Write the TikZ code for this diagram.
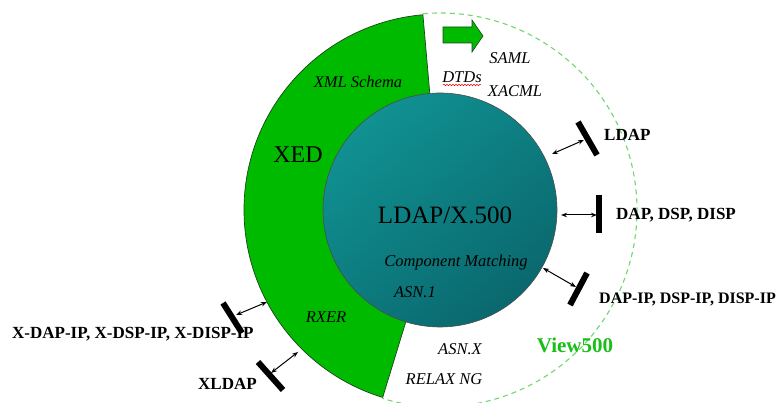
\documentclass[tikz,border=0pt]{standalone}
\usepackage{fontspec}
\setmainfont{Liberation Serif}
\usetikzlibrary{arrows.meta,decorations.pathmorphing}
\definecolor{xedgreen}{RGB}{0,186,0}
\definecolor{edgegreen}{RGB}{25,70,25}
\definecolor{teallight}{RGB}{16,145,146}
\definecolor{tealdark}{RGB}{10,104,110}
\definecolor{ringgreen}{RGB}{110,215,110}
\definecolor{viewgreen}{RGB}{25,190,25}
\tikzset{
  ital/.style={font=\fontsize{16.5}{18}\selectfont\itshape, inner sep=0pt},
  proto/.style={font=\fontsize{17}{19}\selectfont\bfseries, inner sep=0pt, anchor=west},
  bar/.style={line width=6pt},
  link/.style={{Stealth[length=6pt,width=4.5pt]}-{Stealth[length=6pt,width=4.5pt]}, line width=1pt},
}
\begin{document}
\begin{tikzpicture}[x=1pt,y=1pt]
\useasboundingbox (0,0) rectangle (777,403);
\coordinate (C) at (440,193);

% XED sector
\fill[xedgreen] (C) -- ([shift={(95:196)}]C) arc[start angle=95,end angle=253,radius=196pt] -- cycle;
\draw[edgegreen, line width=0.7pt] ([shift={(95:117)}]C) -- ([shift={(95:196)}]C)
  arc[start angle=95,end angle=253,radius=196pt] -- ([shift={(253:117)}]C);

% View500 ring
\draw[ringgreen, line width=1.1pt, dash pattern=on 5pt off 4pt]
  ([shift={(95:197)}]C) arc[start angle=95,end angle=-107,radius=197pt];

% LDAP/X.500 core
\node[circle, minimum size=234pt, inner sep=0pt, draw=black!70, line width=0.6pt,
      top color=teallight, bottom color=tealdark, shading angle=40] (core) at (C) {};

% green block arrow
\filldraw[fill=xedgreen, draw=edgegreen, line width=0.6pt]
  (443,376) -- (472,376) -- (472,383) -- (483,367) -- (472,351) -- (472,360) -- (443,360) -- cycle;

% labels
\node[font=\fontsize{25}{28}\selectfont, inner sep=0pt] (core-label) at (445,188) {LDAP/X.500};
\node[ital] (cm) at (456,140) {Component Matching};
\node[ital] (asn1) at (415,111) {ASN.1};
\node[font=\fontsize{24}{27}\selectfont, inner sep=0pt] (xed) at (298,248) {XED};
\node[ital] (xsd) at (358,321) {XML Schema};
\node[ital] (rxer) at (326,86) {RXER};
\node[ital] (dtd) at (462,326) {DTDs};
\draw[red, line width=0.5pt, decorate, decoration={snake, amplitude=0.8pt, segment length=3pt}]
  (443,318) -- (481,318);
\node[ital] (saml) at (510,345) {SAML};
\node[ital] (xacml) at (515,312) {XACML};
\node[ital] (asnx) at (460,54) {ASN.X};
\node[ital] (relax) at (444,24) {RELAX NG};
\node[font=\fontsize{21}{24}\selectfont\bfseries, text=viewgreen, inner sep=0pt] (view) at (575,58) {View500};

% protocol access points
\coordinate (b1a) at (578,281); \coordinate (b1b) at (597,248);
\coordinate (b2a) at (599,208); \coordinate (b2b) at (599,170);
\coordinate (b3a) at (587,130); \coordinate (b3b) at (570,98);
\coordinate (b4a) at (223,100); \coordinate (b4b) at (242,70);
\coordinate (b5a) at (258,41);  \coordinate (b5b) at (283,13);
\foreach \i in {1,...,5} \draw[bar] (b\i a) -- (b\i b);

\coordinate (p1) at (552,249); \coordinate (q1) at (584,263);
\coordinate (p2) at (561,188); \coordinate (q2) at (597,188);
\coordinate (p3) at (543,135); \coordinate (q3) at (576,116);
\coordinate (p4) at (267,101); \coordinate (q4) at (236,88);
\coordinate (p5) at (298,51);  \coordinate (q5) at (271,30);
\foreach \i in {1,...,5} \draw[link] (p\i) -- (q\i);

\node[proto] (ldap) at (604,268) {LDAP};
\node[proto] (dap) at (616,188) {DAP, DSP, DISP};
\node[proto, font=\fontsize{16}{18}\selectfont\bfseries] (dapip) at (599,104) {DAP-IP, DSP-IP, DISP-IP};
\node[proto] (xdapip) at (12,69) {X-DAP-IP, X-DSP-IP, X-DISP-IP};
\node[proto] (xldap) at (198,19) {XLDAP};
\end{tikzpicture}
\end{document}
